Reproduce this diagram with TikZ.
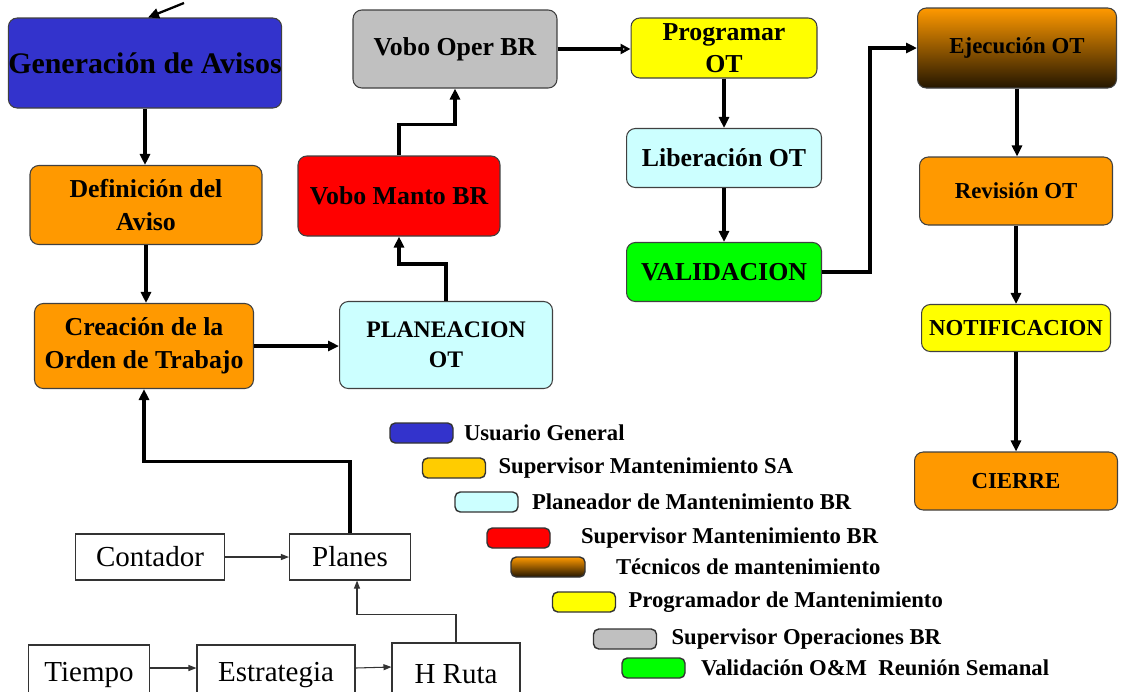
\documentclass[tikz,border=0pt]{standalone}
\usepackage{fontspec}
\setmainfont{LiberationSerif}[Extension=.ttf, UprightFont=*-Regular, BoldFont=*-Bold, ItalicFont=*-Italic, BoldItalicFont=*-BoldItalic]
\usetikzlibrary{arrows.meta,positioning,calc}

\definecolor{avisoblue}{HTML}{3333CC}
\definecolor{mantorange}{HTML}{FF9900}
\definecolor{planecyan}{HTML}{CCFFFF}
\definecolor{vobored}{HTML}{FF0000}
\definecolor{opergray}{HTML}{C0C0C0}
\definecolor{progyellow}{HTML}{FFFF00}
\definecolor{valgreen}{HTML}{00FF00}
\definecolor{saorange}{HTML}{FFCC00}
\definecolor{tecdark}{HTML}{241600}

\begin{document}
\begin{tikzpicture}[
  x=0.02cm, y=-0.02cm,
  box/.style={draw=black!75, line width=0.6pt, rounded corners=5pt, align=center, inner sep=1pt, font=\fontsize{14.7}{18.5}\selectfont\bfseries},
  rbox/.style={box, font=\fontsize{13}{16}\selectfont\bfseries},
  tecfill/.style={top color=mantorange, middle color=mantorange!80!black, bottom color=tecdark},
  plain/.style={draw=black!80, line width=0.6pt, font=\fontsize{16.5}{18}\selectfont},
  swatch/.style={draw=black!80, line width=0.8pt, rounded corners=3pt, minimum width=1.26cm, minimum height=0.4cm},
  legtxt/.style={inner sep=0pt, anchor=west, font=\fontsize{12.9}{15}\selectfont\bfseries},
  arr/.style={-{Triangle[length=0.22cm,width=0.2cm]}, line width=1.8pt},
  openarr/.style={-{Triangle[open,length=0.2cm,width=0.2cm]}, line width=1.8pt},
  thinarr/.style={-{Triangle[length=0.16cm,width=0.12cm]}, line width=0.6pt, draw=black!80}
]
\useasboundingbox (0,0) rectangle (1121,691);
\clip (0,0) rectangle (1121,691);

% left column
\node[box, fill=avisoblue, minimum width=5.4cm, minimum height=1.8cm, inner xsep=0pt,
      font=\fontsize{17}{20}\selectfont\bfseries] at (145,63) (gen) {Generación de Avisos};
\node[box, fill=mantorange, minimum width=4.64cm, minimum height=1.58cm] at (146,205) (def) {Definición del\\Aviso};
\node[box, fill=mantorange, minimum width=4.38cm, minimum height=1.7cm] at (144,346) (crea) {Creación de la\\Orden de Trabajo};

% middle
\node[box, fill=planecyan, minimum width=4.26cm, minimum height=1.74cm, font=\fontsize{13.5}{17}\selectfont\bfseries] at (446,345) (plan) {PLANEACION\\OT};
\node[box, fill=vobored, minimum width=4.04cm, minimum height=1.6cm] at (399,196) (vman) {Vobo Manto BR};
\node[box, fill=opergray, minimum width=4.08cm, minimum height=1.56cm] at (455,49) (voper) {Vobo Oper BR};

\node[box, fill=progyellow, minimum width=3.72cm, minimum height=1.2cm, inner sep=0pt] at (724,48) (prog) {Programar\\OT};
\node[box, fill=planecyan, minimum width=3.9cm, minimum height=1.18cm] at (724,158) (lib) {Liberación OT};
\node[box, fill=valgreen, minimum width=3.9cm, minimum height=1.18cm] at (724,272) (val) {VALIDACION};

% right column
\node[rbox, tecfill, minimum width=3.98cm, minimum height=1.6cm] at (1017,48) (ejec) {Ejecución OT};
\node[rbox, fill=mantorange, minimum width=3.86cm, minimum height=1.36cm] at (1016,191) (rev) {Revisión OT};
\node[rbox, fill=progyellow, minimum width=3.78cm, minimum height=0.94cm] at (1016,328) (notif) {NOTIFICACION};
\node[rbox, fill=mantorange, minimum width=4.06cm, minimum height=1.16cm] at (1016,481) (cierre) {CIERRE};

% plain boxes
\node[plain, minimum width=2.98cm, minimum height=0.92cm] at (150,557) (contador) {Contador};
\node[plain, minimum width=2.42cm, minimum height=0.92cm, text height=1.3em, text depth=0.25em] at (350,557) (planes) {Planes};
\node[plain, minimum width=2.42cm, minimum height=1.2cm] at (89,675) (tiempo) {Tiempo};
\node[plain, minimum width=3.16cm, minimum height=1.2cm] at (276,675) (estrat) {Estrategia};
\node[plain, minimum width=2.56cm, minimum height=1.24cm] at (456,674) (hruta) {H Ruta};

% legend
\node[swatch, fill=avisoblue] at (421.5,433) (sw1) {};
\node[swatch, fill=saorange] at (454,468) (sw2) {};
\node[swatch, fill=planecyan] at (486.5,502) (sw3) {};
\node[swatch, fill=vobored] at (518.5,538) (sw4) {};
\node[swatch, tecfill, minimum width=1.48cm] at (548,567) (sw5) {};
\node[swatch, fill=progyellow] at (584,602) (sw6) {};
\node[swatch, fill=opergray] at (625,639) (sw7) {};
\node[swatch, fill=valgreen] at (653.5,668) (sw8) {};

\node[legtxt, right=0.2cm of sw1] (lg1) {Usuario General};
\node[legtxt, right=0.24cm of sw2] (lg2) {Supervisor Mantenimiento SA};
\node[legtxt, right=0.26cm of sw3] (lg3) {Planeador de Mantenimiento BR};
\node[legtxt, right=0.6cm of sw4] (lg4) {Supervisor Mantenimiento BR};
\node[legtxt, right=0.6cm of sw5] (lg5) {Técnicos de mantenimiento};
\node[legtxt, right=0.24cm of sw6] (lg6) {Programador de Mantenimiento};
\node[legtxt, right=0.28cm of sw7] (lg7) {Supervisor Operaciones BR};
\node[legtxt, right=0.3cm of sw8] (lg8) {Validación O\&M\ \ Reunión Semanal};

% flow
\coordinate (entry) at (184,3);
\draw[arr, line width=1.3pt] (entry) -- ([xshift=0.06cm]gen.north);
\draw[arr] (gen.south) -- (gen.south |- def.north);
\draw[arr] (def.south) -- (def.south |- crea.north);
\draw[arr] (crea.east) -- (crea.east -| plan.west);
\draw[arr] (plan.north) -- ++(0,-37) -| (vman.south);
\draw[arr] (vman.north) -- ++(0,-31) -| (voper.south);
\draw[openarr] (voper.east) -- (voper.east -| prog.west);
\draw[arr] (prog.south) -- (lib.north);
\draw[arr] (lib.south) -- (val.north);
\draw[arr] (val.east) -- ++(48,0) |- (ejec.west);
\draw[arr] (ejec.south) -- (ejec.south |- rev.north);
\draw[arr] (rev.south) -- (notif.north);
\draw[arr] (notif.south) -- (cierre.north);
\draw[arr] (planes.north) -- ++(0,-72) -| (crea.south);

\draw[thinarr] (contador.east) -- (planes.west);
\draw[thinarr] (hruta.north) -- ++(0,-28) -| ([xshift=0.14cm]planes.south);
\draw[thinarr] ([yshift=0.14cm]tiempo.east) -- ([yshift=0.14cm]estrat.west);
\draw[thinarr] ([yshift=0.14cm]estrat.east) -- ([yshift=0.14cm]hruta.west);

\end{tikzpicture}
\end{document}
